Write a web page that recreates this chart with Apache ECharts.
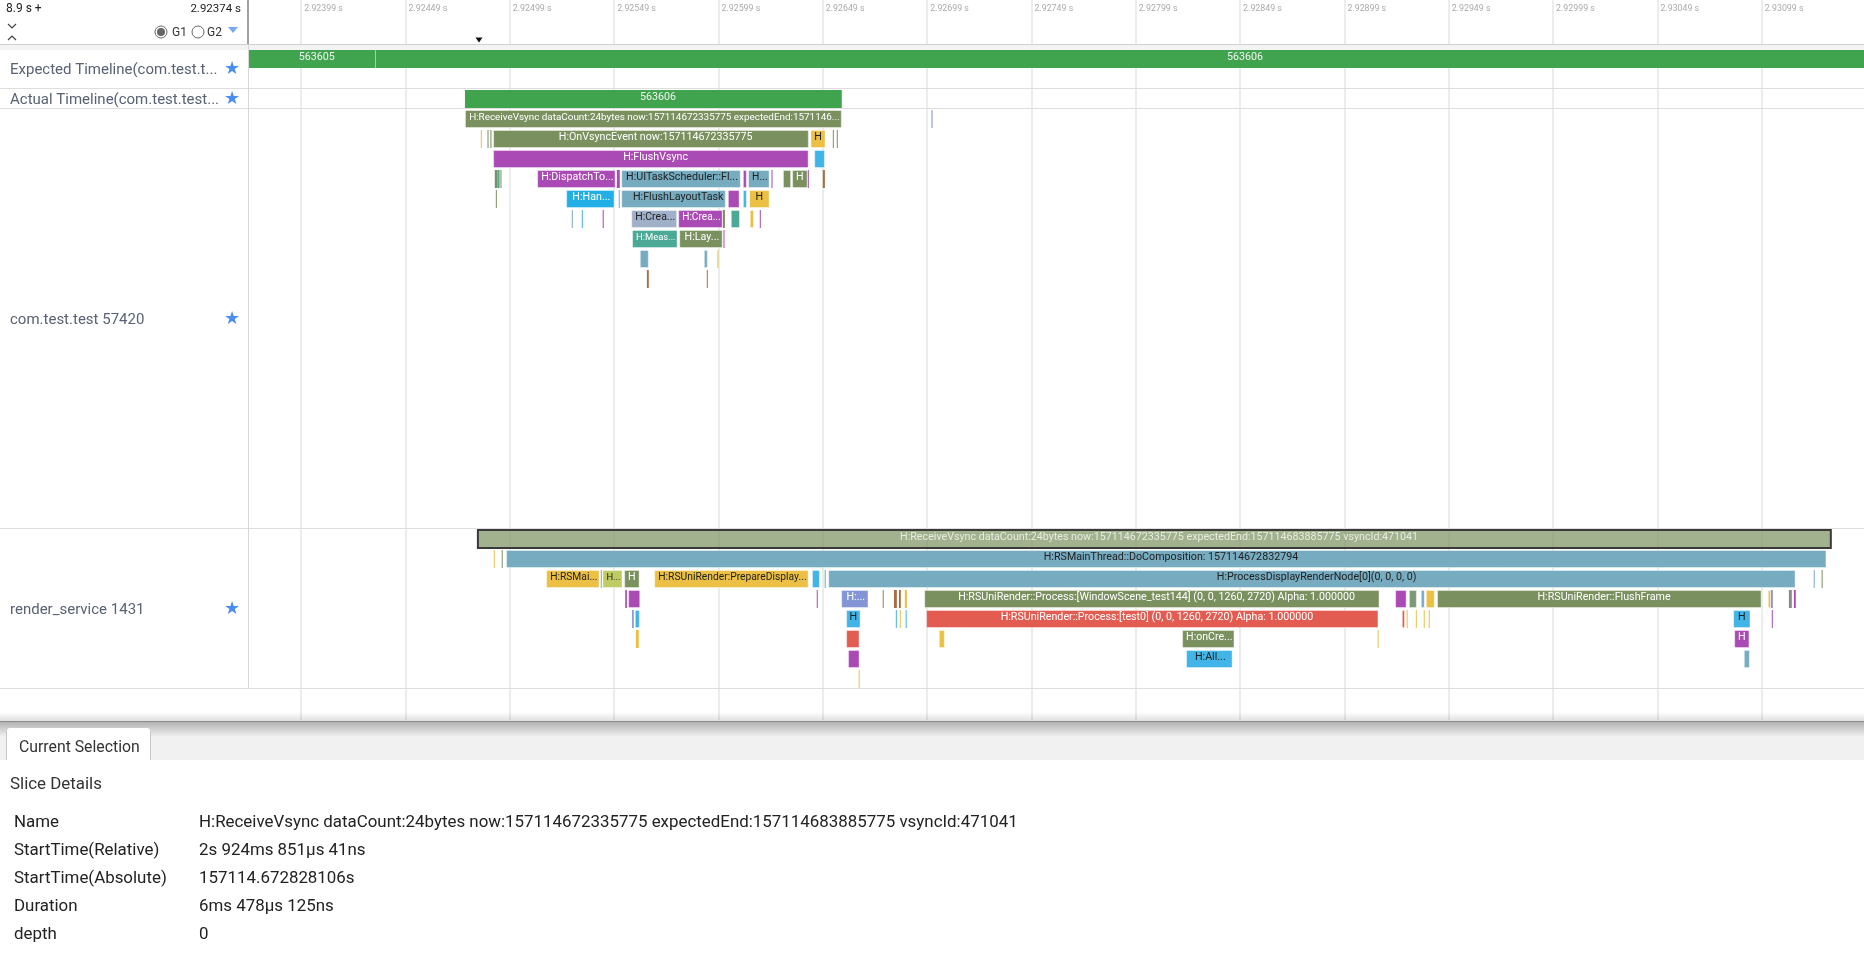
<!DOCTYPE html>
<html>
<head>
<meta charset="utf-8">
<title>Trace viewer</title>
<script src="https://cdn.jsdelivr.net/npm/echarts@6/dist/echarts.min.js"></script>
<style>
  html, body { margin: 0; padding: 0; background: #fff; }
  #main { width: 1864px; height: 968px; }
</style>
</head>
<body>
<div id="main"></div>
<script>
// time unit: microseconds after 2.92 s. row: 0 expected, 2 actual, 3-11 app, 24-31 render_service
var tickTimes = [3990, 4490, 4990, 5490, 5990, 6490, 6990, 7490, 7990, 8490, 8990, 9490, 9990, 10490, 10990];

// every slice: [row, start, end, label]
var greenSlices = [
  [0, 3740, 4345, '563605'], [0, 4347, 12634, '563606'],
  [2, 4775, 6581, '563606']
];
var oliveSlices = [
  [3, 4775, 6581, 'H:ReceiveVsync dataCount:24bytes now:157114672335775 expectedEnd:1571146...'],
  [4, 4883, 4888], [4, 4897, 4902], [4, 4910, 6423, 'H:OnVsyncEvent now:157114672335775'],
  [4, 6538, 6542], [4, 6557, 6561],
  [6, 4918, 4930], [6, 4945, 4950], [6, 6299, 6338], [6, 6343, 6417, 'H'],
  [7, 4923, 4927], [8, 6011, 6021], [9, 5802, 6010, 'H:Lay...'],
  [25, 4951, 4955], [26, 5538, 5612, 'H'], [26, 11277, 11281],
  [27, 6777, 6782], [27, 6976, 9158, 'H:RSUniRender::Process:[WindowScene_test144] (0, 0, 1260, 2720) Alpha: 1.000000'],
  [27, 9434, 10989, 'H:RSUniRender::FlushFrame'],
  [29, 8212, 8463, 'H:onCre...']
];
var purpleSlices = [
  [5, 4910, 6422, 'H:FlushVsync'],
  [6, 5121, 5497, 'H:DispatchTo...'], [6, 5503, 5517], [6, 6107, 6126], [6, 6244, 6249], [6, 6418, 6423],
  [7, 6035, 6091],
  [8, 5435, 5440], [8, 5797, 6010, 'H:Crea...'], [8, 6188, 6192],
  [9, 6014, 6018],
  [27, 5543, 5551], [27, 5557, 5615], [27, 6461, 6465], [27, 9233, 9288], [27, 11144, 11153],
  [28, 11038, 11042],
  [29, 10858, 10931, 'H'],
  [30, 6611, 6666]
];
var yellowSlices = [
  [4, 4851, 4856], [4, 6431, 6503, 'H'],
  [7, 6137, 6235, 'H'],
  [8, 6140, 6160],
  [10, 5985, 5989],
  [25, 4913, 4917],
  [26, 5164, 5420, 'H:RSMai...'], [26, 5682, 6422, 'H:RSUniRender:PrepareDisplay...'],
  [27, 6883, 6893], [27, 9380, 9423], [27, 11019, 11034],
  [28, 6859, 6863], [28, 9288, 9293], [28, 9332, 9336], [28, 9370, 9374], [28, 9394, 9398],
  [29, 5594, 5608], [29, 7046, 7075], [29, 9149, 9153],
  [31, 6662, 6666]
];
var cyanSlices = [
  [5, 6449, 6500],
  [7, 6107, 6126],
  [8, 5335, 5339],
  [26, 6438, 6476],
  [28, 5589, 5613], [28, 6602, 6671, 'H'], [28, 6840, 6844], [28, 6887, 6891], [28, 10853, 10936, 'H'],
  [30, 8231, 8454, 'H:All...']
];
var skySlices = [
  [7, 5260, 5492, 'H:Han...']
];
var steelSlices = [
  [6, 5524, 6097, 'H:UITaskScheduler::Fl...'], [6, 6132, 6235, 'H...'],
  [7, 5512, 5516], [7, 5524, 6025, 'H:FlushLayoutTask'],
  [8, 5287, 5291],
  [10, 5613, 5656], [10, 5920, 5939],
  [25, 4972, 11300, 'H:RSMainThread::DoComposition: 157114672832794'],
  [26, 5426, 5430], [26, 6499, 6504], [26, 6516, 11152, 'H:ProcessDisplayRenderNode[0](0, 0, 0, 0)'], [26, 11239, 11243],
  [27, 9356, 9375],
  [30, 10904, 10933]
];
var slateSlices = [
  [8, 5572, 5792, 'H:Crea...']
];
var tealSlices = [
  [6, 4930, 4941],
  [8, 6049, 6093],
  [9, 5576, 5794, 'H:Meas...']
];
var brownSlices = [
  [6, 6490, 6500],
  [11, 5647, 5656], [11, 5934, 5938],
  [27, 6831, 6845], [27, 6855, 6864]
];
var redSlices = [
  [28, 6985, 9153, 'H:RSUniRender::Process:[test0] (0, 0, 1260, 2720) Alpha: 1.000000'],
  [28, 9265, 9280],
  [29, 6602, 6666]
];
var limeSlices = [
  [26, 5434, 5530, 'H...']
];
var periwinkleSlices = [
  [3, 7011, 7016],
  [27, 6578, 6709, 'H:...'], [27, 11034, 11043],
  [28, 5576, 5584]
];
var sageSlices = [
  [27, 9299, 9337]
];
var greySlices = [
  [27, 11120, 11134]
];
var selectedSlices = [
  [24, 4837, 11321, 'H:ReceiveVsync dataCount:24bytes now:157114672335775 expectedEnd:157114683885775 vsyncId:471041']
];

// left column
var trackNames = ['Expected Timeline(com.test.t...', 'Actual Timeline(com.test.test...', 'com.test.test 57420', 'render_service 1431'];
var detailNames = ['Name', 'StartTime(Relative)', 'StartTime(Absolute)', 'Duration', 'depth'];
var detailValues = [
  'H:ReceiveVsync dataCount:24bytes now:157114672335775 expectedEnd:157114683885775 vsyncId:471041',
  '2s 924ms 851μs 41ns',
  '157114.672828106s',
  '6ms 478μs 125ns',
  '0'
];

var UI_FONT = 'Roboto, "Noto Sans", sans-serif';
var DARK = '#222222', LIGHT = '#ffffff';
var SLICE_FONT = 10.7;

var groups = [
  { name: 'green', data: greenSlices, fill: '#40a44f', text: '#f2f2f2', plain: true },
  { name: 'olive', data: oliveSlices, fill: '#7a915f', text: LIGHT },
  { name: 'purple', data: purpleSlices, fill: '#aa4ab5', text: LIGHT },
  { name: 'yellow', data: yellowSlices, fill: '#ecc045', text: DARK },
  { name: 'cyan', data: cyanSlices, fill: '#41b4e8', text: DARK },
  { name: 'sky', data: skySlices, fill: '#22afe6', text: LIGHT },
  { name: 'steel', data: steelSlices, fill: '#76abc0', text: DARK },
  { name: 'slate', data: slateSlices, fill: '#9fb0c8', text: DARK },
  { name: 'teal', data: tealSlices, fill: '#4ca995', text: LIGHT },
  { name: 'brown', data: brownSlices, fill: '#a96d3f', text: LIGHT },
  { name: 'red', data: redSlices, fill: '#e25c52', text: LIGHT },
  { name: 'lime', data: limeSlices, fill: '#bfcb63', text: DARK },
  { name: 'periwinkle', data: periwinkleSlices, fill: '#8495d6', text: LIGHT },
  { name: 'sage', data: sageSlices, fill: '#7d9a77', text: LIGHT },
  { name: 'grey', data: greySlices, fill: '#8a8a8a', text: LIGHT },
  { name: 'selected', data: selectedSlices, fill: 'rgba(122,145,95,0.7)', text: '#e8ecdf', selected: true }
];

var measureCtx = document.createElement('canvas').getContext('2d');

// shrink a label that would not fit into its slice
function fitFont(text, width) {
  measureCtx.font = SLICE_FONT + 'px ' + UI_FONT;
  var w = measureCtx.measureText(text).width;
  return w > width - 6 ? SLICE_FONT * (width - 6) / w : SLICE_FONT;
}

// the viewer draws untruncated names a little right of centre
function labelShift(text) {
  if (text.length < 2) return 0;
  return /\.\.\.$/.test(text) ? 1 : 4.7;
}

// one slice box plus its centred label
function sliceRenderer(group) {
  return function (params, api) {
    var item = group.data[params.dataIndex];
    var a = api.coord([item[1], item[0]]);
    var b = api.coord([item[2], item[0]]);
    var box = params.coordSys;
    var h = api.size([0, 1])[1];
    var left = Math.max(a[0], box.x);
    var right = Math.min(b[0], box.x + box.width);
    var w = Math.max(right - left, 1);
    var rectStyle = { fill: group.fill };
    var shape = { x: left, y: a[1], width: w, height: h * 0.9 };
    if (group.selected) {
      rectStyle.stroke = '#3a3a3a';
      rectStyle.lineWidth = 2;
    } else if (!group.plain && w > 3) {
      rectStyle.stroke = 'rgba(255,255,255,0.4)';
      rectStyle.lineWidth = 1;
      shape.x += 0.5; shape.y += 0.5; shape.width -= 1; shape.height -= 1;
    }
    var children = [{ type: 'rect', shape: shape, style: rectStyle }];
    if (item[3]) {
      children.push({
        type: 'text',
        style: {
          text: item[3], x: (a[0] + b[0]) / 2 + labelShift(item[3]), y: a[1] + 7.5,
          align: 'center', verticalAlign: 'middle',
          fill: group.text, fontSize: fitFont(item[3], b[0] - a[0]), fontFamily: UI_FONT
        }
      });
    }
    return { type: 'group', children: children };
  };
}

var series = groups.map(function (g) {
  return {
    type: 'custom',
    name: g.name,
    coordinateSystem: 'cartesian2d',
    data: g.data.map(function (d) { return [d[0], d[1], d[2]]; }),
    encode: { x: [1, 2], y: 0 },
    renderItem: sliceRenderer(g),
    silent: true
  };
});

// page furniture around the plot
function label(text, x, y, size, color, align) {
  return { type: 'text', z: 100, silent: true, style: {
    text: text, x: x, y: y, fontSize: size, fill: color, fontFamily: UI_FONT,
    align: align || 'left', verticalAlign: 'middle'
  } };
}
function box(x, y, w, h, fill) {
  return { type: 'rect', z: 100, silent: true, shape: { x: x, y: y, width: w, height: h }, style: { fill: fill } };
}
function hline(y, color, x1) {
  return box(x1 || 0, y, 1864 - (x1 || 0), 1, color);
}
function fade(y, h, from, to) {
  return box(0, y, 1864, h, new echarts.graphic.LinearGradient(0, 0, 0, 1, [
    { offset: 0, color: from }, { offset: 1, color: to }
  ]));
}
function star(cx, cy) {
  return { type: 'text', z: 100, silent: true, style: {
    text: '★', x: cx, y: cy, fontSize: 18, fill: '#4a8df0', fontFamily: 'DejaVu Sans',
    align: 'center', verticalAlign: 'middle'
  } };
}
function chevron(cx, cy, dir) {
  return { type: 'polyline', z: 100, silent: true,
    shape: { points: [[cx - 4, cy - 2 * dir], [cx, cy + 2 * dir], [cx + 4, cy - 2 * dir]] },
    style: { stroke: '#444', lineWidth: 1.2, fill: null } };
}
function tri(cx, cy, w, h, color) {
  return { type: 'polygon', z: 100, silent: true,
    shape: { points: [[cx - w, cy - h], [cx + w, cy - h], [cx, cy + h]] }, style: { fill: color } };
}
function ring(cx, cy, checked) {
  var out = [{ type: 'circle', z: 100, silent: true, shape: { cx: cx, cy: cy, r: 6 },
    style: { fill: '#fff', stroke: '#666', lineWidth: 1 } }];
  if (checked) {
    out.push({ type: 'circle', z: 100, silent: true, shape: { cx: cx, cy: cy, r: 4 }, style: { fill: '#666' } });
  }
  return out;
}

var trackY = [70, 100, 320, 610];
var detailY = [823, 851, 879, 907, 935];

var furniture = [
  box(249, 45, 1615, 5, '#f3f3f3'),
  box(0, 45, 248, 5, '#f3f3f3'),
  hline(44, '#d0d0d0'), hline(88, '#dedede'), hline(108, '#dedede'), hline(528, '#dedede'), hline(688, '#dedede'),
  box(247, 0, 2, 44, '#a0a0a0'),
  box(248, 45, 1, 643, '#d8d8d8'),
  label('8.9 s +', 6, 9, 12, '#222'),
  label('2.92374 s', 241, 9, 11.5, '#222', 'right'),
  chevron(12, 26, 1), chevron(12, 38, -1),
  label('G1', 172, 33, 12, '#333'),
  label('G2', 207, 33, 12, '#333'),
  tri(233, 30, 5, 3, '#79a8f5'),
  tri(479, 40, 3.5, 2.5, '#111'),
  fade(712, 9, 'rgba(0,0,0,0)', 'rgba(0,0,0,0.12)'),
  box(0, 721, 1864, 39, '#f1f1f1'),
  fade(721, 16, 'rgba(0,0,0,0.28)', 'rgba(0,0,0,0)'),
  box(0, 721, 1864, 1, '#8a8a8a'),
  box(0, 760, 1864, 208, '#ffffff'),
  { type: 'rect', z: 100, silent: true, shape: { x: 6.5, y: 727.5, width: 144, height: 40, r: [3, 3, 0, 0] },
    style: { fill: '#fff', stroke: '#c8c8c8', lineWidth: 1 } },
  box(0, 760, 1864, 10, '#ffffff'),
  label('Current Selection', 19, 748, 15.8, '#333'),
  label('Slice Details', 10, 785, 16.9, '#333')
].concat(ring(161, 32, true), ring(198, 32, false));

trackNames.forEach(function (name, i) {
  furniture.push(label(name, 10, trackY[i], 15, '#596273'));
  furniture.push(star(232, trackY[i] - 1));
});
detailNames.forEach(function (name, i) {
  furniture.push(label(name, 14, detailY[i], 16.9, '#222'));
  furniture.push(label(detailValues[i], 199, detailY[i], 16.9, '#222'));
});

var chart = echarts.init(document.getElementById('main'));
chart.setOption({
  animation: false,
  backgroundColor: '#fff',
  grid: { left: 249, top: 0, width: 1615, height: 720, containLabel: false },
  xAxis: {
    type: 'value', position: 'top', min: 3740, max: 11480,
    axisLine: { show: false },
    axisTick: { show: false, customValues: tickTimes },
    axisLabel: {
      inside: true, margin: 4, align: 'left', padding: [0, 0, 0, 3],
      customValues: tickTimes,
      color: '#ababab', fontSize: 8.8, fontFamily: UI_FONT,
      formatter: function (v) { return (2.92 + v / 1e6).toFixed(5) + ' s'; }
    },
    splitLine: { show: true, lineStyle: { color: '#e6e6e6', width: 1.5 } }
  },
  yAxis: { type: 'value', inverse: true, min: -2.5, max: 33.5, show: false, splitLine: { show: false } },
  series: series,
  graphic: furniture
});
</script>
</body>
</html>
